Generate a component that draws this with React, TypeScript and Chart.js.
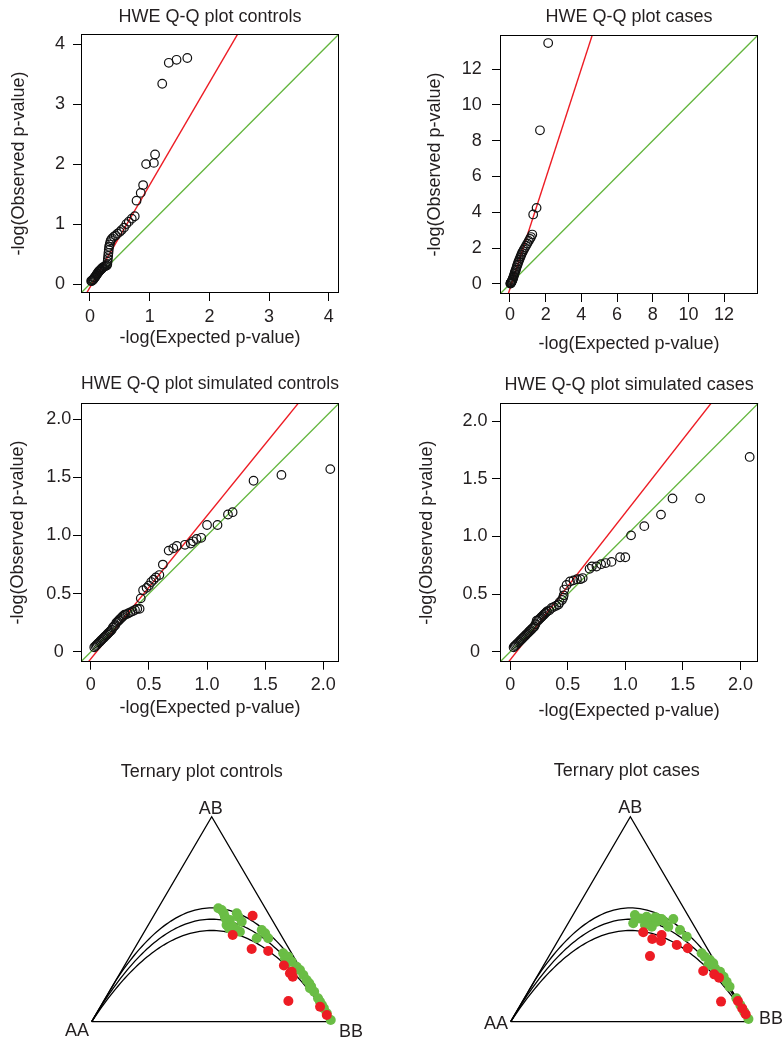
import React, { useEffect, useRef } from 'react';
import { Chart, registerables } from 'chart.js';

Chart.register(...registerables);

const FONT_FAMILY = '"Liberation Sans", Arial, Helvetica, sans-serif';
const FONT_SIZE = 18;
const TEXT_COLOR = '#231f20';
const RED = '#ed1c24';
const GREEN = '#62b53c';

// ---------- Q-Q plot controls ----------
const P1_EXPECTED = [0.02, 0.03, 0.04, 0.05, 0.06, 0.07, 0.08, 0.09, 0.10, 0.11, 0.12, 0.13, 0.14, 0.15, 0.16, 0.17, 0.18, 0.19, 0.20, 0.21, 0.22, 0.24, 0.26, 0.28, 0.29, 0.295, 0.30, 0.305, 0.31, 0.315, 0.32, 0.33, 0.34, 0.35, 0.37, 0.40, 0.43, 0.46, 0.50, 0.53, 0.57, 0.61, 0.65, 0.70, 0.75, 0.78, 0.85, 0.89, 0.94, 1.07, 1.09, 1.21, 1.32, 1.45, 1.63];
const P1_OBSERVED = [0.05, 0.05, 0.06, 0.07, 0.08, 0.10, 0.11, 0.12, 0.14, 0.15, 0.17, 0.18, 0.20, 0.21, 0.22, 0.23, 0.24, 0.25, 0.26, 0.27, 0.28, 0.29, 0.30, 0.31, 0.33, 0.37, 0.42, 0.47, 0.52, 0.57, 0.62, 0.66, 0.70, 0.73, 0.76, 0.79, 0.81, 0.84, 0.87, 0.90, 0.94, 1.00, 1.04, 1.09, 1.13, 1.39, 1.52, 1.65, 2.00, 2.02, 2.16, 3.34, 3.69, 3.74, 3.77];
const P1_FIT = { slope: 1.708, intercept: -0.056 };
const P1_RANGE = [-0.15, 4.17];
const P1_TICKS = [0, 1, 2, 3, 4];
const P1_TICK_LABELS = ['0', '1', '2', '3', '4'];

// ---------- Q-Q plot cases ----------
const P2_EXPECTED = [0.02, 0.03, 0.04, 0.05, 0.06, 0.08, 0.10, 0.12, 0.14, 0.16, 0.18, 0.20, 0.22, 0.25, 0.27, 0.30, 0.33, 0.36, 0.39, 0.42, 0.45, 0.48, 0.52, 0.56, 0.60, 0.64, 0.68, 0.73, 0.78, 0.84, 0.90, 0.97, 1.05, 1.12, 1.18, 1.25, 1.30, 1.49, 1.68, 2.14];
const P2_OBSERVED = [0.02, 0.03, 0.05, 0.06, 0.08, 0.11, 0.15, 0.19, 0.24, 0.29, 0.35, 0.41, 0.48, 0.56, 0.64, 0.72, 0.80, 0.90, 1.00, 1.08, 1.17, 1.26, 1.35, 1.45, 1.55, 1.65, 1.74, 1.83, 1.93, 2.03, 2.14, 2.26, 2.40, 2.52, 2.62, 2.76, 3.88, 4.25, 8.58, 13.45];
const P2_FIT = { slope: 3.07, intercept: -0.26 };
const P2_RANGE = [-0.56, 13.9];
const P2_TICKS = [0, 2, 4, 6, 8, 10, 12];
const P2_TICK_LABELS = ['0', '2', '4', '6', '8', '10', '12'];

// ---------- Q-Q plot simulated controls ----------
const P3_EXPECTED = [0.03, 0.04, 0.05, 0.06, 0.07, 0.08, 0.09, 0.10, 0.11, 0.12, 0.13, 0.14, 0.15, 0.16, 0.17, 0.18, 0.19, 0.20, 0.21, 0.22, 0.23, 0.24, 0.25, 0.26, 0.27, 0.28, 0.29, 0.30, 0.32, 0.34, 0.36, 0.38, 0.40, 0.42, 0.43, 0.45, 0.48, 0.50, 0.52, 0.54, 0.56, 0.59, 0.62, 0.67, 0.71, 0.74, 0.81, 0.86, 0.88, 0.91, 0.95, 1.00, 1.09, 1.18, 1.22, 1.40, 1.64, 2.06];
const P3_OBSERVED = [0.04, 0.05, 0.06, 0.07, 0.08, 0.09, 0.10, 0.11, 0.12, 0.13, 0.14, 0.15, 0.16, 0.17, 0.18, 0.19, 0.21, 0.22, 0.23, 0.25, 0.26, 0.27, 0.28, 0.29, 0.30, 0.31, 0.32, 0.32, 0.33, 0.34, 0.35, 0.36, 0.37, 0.37, 0.46, 0.53, 0.55, 0.57, 0.60, 0.62, 0.64, 0.66, 0.75, 0.87, 0.89, 0.91, 0.92, 0.93, 0.95, 0.97, 0.98, 1.09, 1.09, 1.18, 1.20, 1.47, 1.52, 1.57];
const P3_FIT = { slope: 1.23, intercept: -0.06 };
const P3_RANGE = [-0.084, 2.135];
const P3_TICKS = [0, 0.5, 1, 1.5, 2];
const P3_TICK_LABELS = ['0', '0.5', '1.0', '1.5', '2.0'];

// ---------- Q-Q plot simulated cases ----------
const P4_EXPECTED = [0.03, 0.04, 0.05, 0.06, 0.07, 0.08, 0.09, 0.10, 0.11, 0.12, 0.13, 0.14, 0.15, 0.16, 0.17, 0.18, 0.19, 0.20, 0.21, 0.22, 0.23, 0.24, 0.25, 0.26, 0.27, 0.28, 0.29, 0.30, 0.31, 0.32, 0.34, 0.36, 0.38, 0.40, 0.42, 0.43, 0.45, 0.46, 0.465, 0.47, 0.49, 0.52, 0.55, 0.58, 0.61, 0.63, 0.69, 0.71, 0.75, 0.79, 0.83, 0.88, 0.955, 1.00, 1.05, 1.165, 1.31, 1.41, 1.65, 2.08];
const P4_OBSERVED = [0.04, 0.05, 0.06, 0.07, 0.08, 0.09, 0.10, 0.11, 0.12, 0.13, 0.14, 0.15, 0.16, 0.17, 0.18, 0.19, 0.20, 0.21, 0.22, 0.24, 0.27, 0.27, 0.28, 0.29, 0.30, 0.31, 0.32, 0.33, 0.34, 0.35, 0.36, 0.38, 0.39, 0.40, 0.41, 0.43, 0.45, 0.47, 0.49, 0.54, 0.58, 0.61, 0.62, 0.63, 0.63, 0.64, 0.72, 0.74, 0.74, 0.76, 0.77, 0.78, 0.82, 0.82, 1.01, 1.09, 1.19, 1.33, 1.33, 1.69];
const P4_FIT = { slope: 1.275, intercept: -0.07 };
const P4_RANGE = [-0.088, 2.155];
const P4_TICKS = [0, 0.5, 1, 1.5, 2];
const P4_TICK_LABELS = ['0', '0.5', '1.0', '1.5', '2.0'];

// ---------- Ternary plots (genotype frequencies AB, BB; AA = 1 - AB - BB) ----------
const VERTEX_LABELS = ['AA', 'AB', 'BB'];
const HWE_CURVE_FACTORS = [1.11, 1.0, 0.89];

const T5_GREEN_AB = [0.553, 0.545, 0.512, 0.496, 0.529, 0.512, 0.472, 0.463, 0.488, 0.439, 0.447, 0.447, 0.431, 0.407, 0.407, 0.334, 0.309, 0.317, 0.293, 0.268, 0.252, 0.228, 0.203, 0.187, 0.171, 0.146, 0.114, 0.081, 0.065, 0.041, 0.008, 0.285, 0.244, 0.163, 0.098, 0.530, 0.500, 0.455];
const T5_GREEN_BB = [0.251, 0.269, 0.299, 0.328, 0.340, 0.355, 0.326, 0.358, 0.381, 0.398, 0.381, 0.485, 0.507, 0.484, 0.532, 0.631, 0.651, 0.661, 0.687, 0.720, 0.742, 0.768, 0.794, 0.813, 0.829, 0.854, 0.886, 0.919, 0.935, 0.959, 0.992, 0.670, 0.718, 0.828, 0.902, 0.285, 0.310, 0.345];
const T5_RED_AB = [0.517, 0.423, 0.355, 0.345, 0.274, 0.236, 0.2195, 0.244, 0.101, 0.073, 0.033];
const T5_RED_BB = [0.412, 0.376, 0.489, 0.563, 0.664, 0.708, 0.728, 0.711, 0.769, 0.915, 0.963];

const T6_GREEN_AB = [0.520, 0.480, 0.504, 0.512, 0.496, 0.463, 0.488, 0.501, 0.463, 0.501, 0.447, 0.415, 0.334, 0.317, 0.301, 0.277, 0.260, 0.244, 0.2195, 0.195, 0.171, 0.114, 0.081, 0.049, 0.013, 0.285, 0.472, 0.510, 0.490];
const T6_GREEN_BB = [0.259, 0.272, 0.288, 0.312, 0.334, 0.358, 0.366, 0.380, 0.427, 0.429, 0.484, 0.528, 0.631, 0.653, 0.682, 0.687, 0.724, 0.753, 0.780, 0.805, 0.829, 0.886, 0.919, 0.951, 0.987, 0.704, 0.325, 0.350, 0.395];
const T6_RED_AB = [0.436, 0.403, 0.423, 0.394, 0.320, 0.374, 0.358, 0.247, 0.231, 0.215, 0.098, 0.101, 0.065, 0.036];
const T6_RED_BB = [0.336, 0.390, 0.419, 0.431, 0.422, 0.507, 0.561, 0.681, 0.735, 0.763, 0.830, 0.899, 0.935, 0.964];

// ---------- layout (not data) ----------
const QQ_PANELS = [
  {
    title: 'HWE Q-Q plot controls', expected: P1_EXPECTED, observed: P1_OBSERVED, fit: P1_FIT,
    range: P1_RANGE, ticks: P1_TICKS, tickLabels: P1_TICK_LABELS,
    canvas: { left: 0, top: 0, w: 392, h: 360 }, area: { left: 81, top: 34, right: 339, bottom: 293 },
    titleTop: 6.4, yTitleTop: 8.2, yTickPad: 8, yAlign: 'near', xTickPad: 5.7, xTitleBottom: 11.2,
  },
  {
    title: 'HWE Q-Q plot cases', expected: P2_EXPECTED, observed: P2_OBSERVED, fit: P2_FIT,
    range: P2_RANGE, ticks: P2_TICKS, tickLabels: P2_TICK_LABELS,
    canvas: { left: 392, top: 0, w: 392, h: 360 }, area: { left: 108, top: 35, right: 366, bottom: 294 },
    titleTop: 6.4, yTitleTop: 32.7, yTickPad: 10.3, yAlign: 'near', xTickPad: 2.5, xTitleBottom: 4.9,
  },
  {
    title: 'HWE Q-Q plot simulated controls', expected: P3_EXPECTED, observed: P3_OBSERVED, fit: P3_FIT,
    range: P3_RANGE, ticks: P3_TICKS, tickLabels: P3_TICK_LABELS,
    canvas: { left: 0, top: 360, w: 392, h: 375 }, area: { left: 81, top: 43.3, right: 339, bottom: 301.7 },
    titleTop: 13.7, yTitleTop: 7.7, yTickPad: 1.8, yAlign: 'center', xTickPad: 4.5, xTitleBottom: 15.9,
  },
  {
    title: 'HWE Q-Q plot simulated cases', expected: P4_EXPECTED, observed: P4_OBSERVED, fit: P4_FIT,
    range: P4_RANGE, ticks: P4_TICKS, tickLabels: P4_TICK_LABELS,
    canvas: { left: 392, top: 360, w: 392, h: 375 }, area: { left: 108, top: 43.3, right: 366.3, bottom: 302 },
    titleTop: 14.2, yTitleTop: 24.2, yTickPad: 4.5, yAlign: 'center', xTickPad: 4.5, xTitleBottom: 13.2,
  },
];

const TERNARY_PANELS = [
  {
    title: 'Ternary plot controls', greenAB: T5_GREEN_AB, greenBB: T5_GREEN_BB, redAB: T5_RED_AB, redBB: T5_RED_BB,
    canvas: { left: 30, top: 760, w: 350, h: 279 }, area: { left: 41.7, top: 56.7, right: 301.7, bottom: 261.7 },
    xMin: -0.0833, titleTop: 1.4,
    labelOffsets: [
      { dx: -2.7, dy: 9.3, align: 'right' },
      { dx: -1, dy: -8, align: 'center' },
      { dx: 7.3, dy: 10, align: 'left' },
    ],
  },
  {
    title: 'Ternary plot cases', greenAB: T6_GREEN_AB, greenBB: T6_GREEN_BB, redAB: T6_RED_AB, redBB: T6_RED_BB,
    canvas: { left: 460, top: 760, w: 324, h: 279 }, area: { left: 43.4, top: 56.7, right: 290, bottom: 261.7 },
    xMin: -0.0305, titleTop: 0.4,
    labelOffsets: [
      { dx: -2.7, dy: 2.8, align: 'right' },
      { dx: 0, dy: -8.4, align: 'center' },
      { dx: 9, dy: -2.7, align: 'left' },
    ],
  },
];

const LINE_HEIGHT = FONT_SIZE * 1.2;
const baseFont = { family: FONT_FAMILY, size: FONT_SIZE, weight: 'normal' as const };

const boxPlugin = {
  id: 'rBox',
  afterDatasetsDraw(chart: any) {
    const a = chart.chartArea;
    const ctx = chart.ctx;
    ctx.save();
    ctx.strokeStyle = '#000';
    ctx.lineWidth = 1;
    const l = Math.round(a.left) + 0.5;
    const t = Math.round(a.top) + 0.5;
    const r = Math.round(a.right) - 0.5;
    const b = Math.round(a.bottom) - 0.5;
    ctx.strokeRect(l, t, r - l, b - t);
    ctx.restore();
  },
};

const vertexLabelPlugin = {
  id: 'vertexLabels',
  afterDraw(chart: any, _args: any, opts: any) {
    const { ctx, scales } = chart;
    ctx.save();
    ctx.font = `${FONT_SIZE}px ${FONT_FAMILY}`;
    ctx.fillStyle = TEXT_COLOR;
    ctx.textBaseline = 'middle';
    (opts.items || []).forEach((it: any) => {
      const px = scales.x.getPixelForValue(it.x) + it.dx;
      const py = scales.y.getPixelForValue(it.y) + it.dy;
      ctx.textAlign = it.align;
      ctx.fillText(it.text, px, py);
    });
    ctx.restore();
  },
};

function makeQQ(canvas: HTMLCanvasElement, p: any) {
  const points = p.expected.map((x: number, i: number) => ({ x, y: p.observed[i] }));
  const lo = p.range[0] - 1;
  const hi = p.range[1] + 1;
  const fitLine = [lo, hi].map((x) => ({ x, y: p.fit.intercept + p.fit.slope * x }));
  const nullLine = [lo, hi].map((x) => ({ x, y: x }));
  const tickCfg = {
    autoSkip: false, maxRotation: 0, minRotation: 0, font: baseFont, color: TEXT_COLOR,
    callback: (_v: any, i: number) => p.tickLabels[i],
  };
  const gridCfg = { drawOnChartArea: false, drawTicks: true, tickLength: 8, color: '#000', lineWidth: 1 };
  return new Chart(canvas, {
    type: 'scatter',
    data: {
      datasets: [
        {
          data: points, showLine: false, pointRadius: 4.3, pointBorderWidth: 1.2,
          pointBorderColor: '#111', pointBackgroundColor: 'rgba(0,0,0,0)',
        },
        { data: fitLine, showLine: true, borderColor: RED, borderWidth: 1.4, pointRadius: 0 },
        { data: nullLine, showLine: true, borderColor: GREEN, borderWidth: 1.3, pointRadius: 0 },
      ],
    } as any,
    options: {
      animation: false,
      responsive: false,
      maintainAspectRatio: false,
      devicePixelRatio: 1,
      events: [],
      layout: { padding: { left: 0, top: 0, right: p.canvas.w - p.area.right, bottom: 0 } },
      plugins: {
        legend: { display: false },
        tooltip: { enabled: false },
        title: {
          display: true, text: p.title, font: baseFont, color: TEXT_COLOR, fullSize: false,
          padding: { top: p.titleTop, bottom: p.area.top - p.titleTop - LINE_HEIGHT },
        },
      },
      scales: {
        x: {
          type: 'linear', position: 'bottom', min: p.range[0], max: p.range[1],
          afterFit: (s: any) => { s.height = p.canvas.h - p.area.bottom; },
          afterBuildTicks: (s: any) => { s.ticks = p.ticks.map((v: number) => ({ value: v })); },
          ticks: { ...tickCfg, padding: p.xTickPad },
          grid: gridCfg,
          border: { display: false },
          title: {
            display: true, text: '-log(Expected p-value)', font: baseFont, color: TEXT_COLOR,
            padding: { top: 0, bottom: p.xTitleBottom },
          },
        },
        y: {
          type: 'linear', position: 'left', min: p.range[0], max: p.range[1],
          afterFit: (s: any) => { s.width = p.area.left; },
          afterBuildTicks: (s: any) => { s.ticks = p.ticks.map((v: number) => ({ value: v })); },
          ticks: { ...tickCfg, padding: p.yTickPad, crossAlign: p.yAlign },
          grid: gridCfg,
          border: { display: false },
          title: {
            display: true, text: '-log(Observed p-value)', font: baseFont, color: TEXT_COLOR,
            padding: { top: p.yTitleTop, bottom: 0 },
          },
        },
      },
    } as any,
    plugins: [boxPlugin],
  });
}

const Q_GRID = Array.from({ length: 101 }, (_, i) => i / 100);
const TRIANGLE = [
  { ab: 0, bb: 0 },
  { ab: 1, bb: 0 },
  { ab: 0, bb: 1 },
  { ab: 0, bb: 0 },
];
const VERTEX_POS = [
  { x: 0, y: 0 },
  { x: 0.5, y: 1 },
  { x: 1, y: 0 },
];

function makeTernary(canvas: HTMLCanvasElement, t: any) {
  const toPt = (ab: number, bb: number) => ({ x: bb + ab / 2, y: ab });
  const green = t.greenAB.map((ab: number, i: number) => toPt(ab, t.greenBB[i]));
  const red = t.redAB.map((ab: number, i: number) => toPt(ab, t.redBB[i]));
  const curves = HWE_CURVE_FACTORS.map((f) => ({
    data: Q_GRID.map((q) => ({ x: q, y: Math.min(2 * q * (1 - q) * f, 2 * q, 2 * (1 - q)) })),
    showLine: true, borderColor: '#000', borderWidth: 1.3, pointRadius: 0, clip: false,
  }));
  const tri = {
    data: TRIANGLE.map((v) => toPt(v.ab, v.bb)),
    showLine: true, borderColor: '#000', borderWidth: 1.3, pointRadius: 0, clip: false,
  };
  const items = VERTEX_LABELS.map((text, i) => ({ text, ...VERTEX_POS[i], ...t.labelOffsets[i] }));
  return new Chart(canvas, {
    type: 'scatter',
    data: {
      datasets: [
        { data: red, showLine: false, pointRadius: 5, pointBorderWidth: 0, pointBackgroundColor: RED, pointBorderColor: RED, clip: false },
        { data: green, showLine: false, pointRadius: 5, pointBorderWidth: 0, pointBackgroundColor: '#6abd45', pointBorderColor: '#6abd45', clip: false },
        ...curves,
        tri,
      ],
    } as any,
    options: {
      animation: false,
      responsive: false,
      maintainAspectRatio: false,
      devicePixelRatio: 1,
      events: [],
      layout: {
        padding: { left: t.area.left, top: 0, right: t.canvas.w - t.area.right, bottom: t.canvas.h - t.area.bottom },
      },
      plugins: {
        legend: { display: false },
        tooltip: { enabled: false },
        title: {
          display: true, text: t.title, font: baseFont, color: TEXT_COLOR, fullSize: false,
          padding: { top: t.titleTop, bottom: t.area.top - t.titleTop - LINE_HEIGHT },
        },
        vertexLabels: { items },
      },
      scales: {
        x: { type: 'linear', display: false, min: t.xMin, max: 1 },
        y: { type: 'linear', display: false, min: 0, max: 1 },
      },
    } as any,
    plugins: [vertexLabelPlugin],
  });
}

export default function App() {
  const qqRefs = useRef<(HTMLCanvasElement | null)[]>([]);
  const terRefs = useRef<(HTMLCanvasElement | null)[]>([]);

  useEffect(() => {
    Chart.defaults.font.family = FONT_FAMILY;
    Chart.defaults.color = TEXT_COLOR;
    const charts: Chart[] = [];
    QQ_PANELS.forEach((p, i) => {
      const c = qqRefs.current[i];
      if (c) charts.push(makeQQ(c, p));
    });
    TERNARY_PANELS.forEach((t, i) => {
      const c = terRefs.current[i];
      if (c) charts.push(makeTernary(c, t));
    });
    return () => charts.forEach((ch) => ch.destroy());
  }, []);

  return (
    <div style={{ position: 'absolute', left: 0, top: 0, width: 784, height: 1039, overflow: 'hidden', background: '#fff' }}>
      {QQ_PANELS.map((p, i) => (
        <canvas
          key={'qq' + i}
          ref={(el) => { qqRefs.current[i] = el; }}
          width={p.canvas.w}
          height={p.canvas.h}
          style={{ position: 'absolute', left: p.canvas.left, top: p.canvas.top, width: p.canvas.w, height: p.canvas.h }}
        />
      ))}
      {TERNARY_PANELS.map((t, i) => (
        <canvas
          key={'t' + i}
          ref={(el) => { terRefs.current[i] = el; }}
          width={t.canvas.w}
          height={t.canvas.h}
          style={{ position: 'absolute', left: t.canvas.left, top: t.canvas.top, width: t.canvas.w, height: t.canvas.h }}
        />
      ))}
    </div>
  );
}
